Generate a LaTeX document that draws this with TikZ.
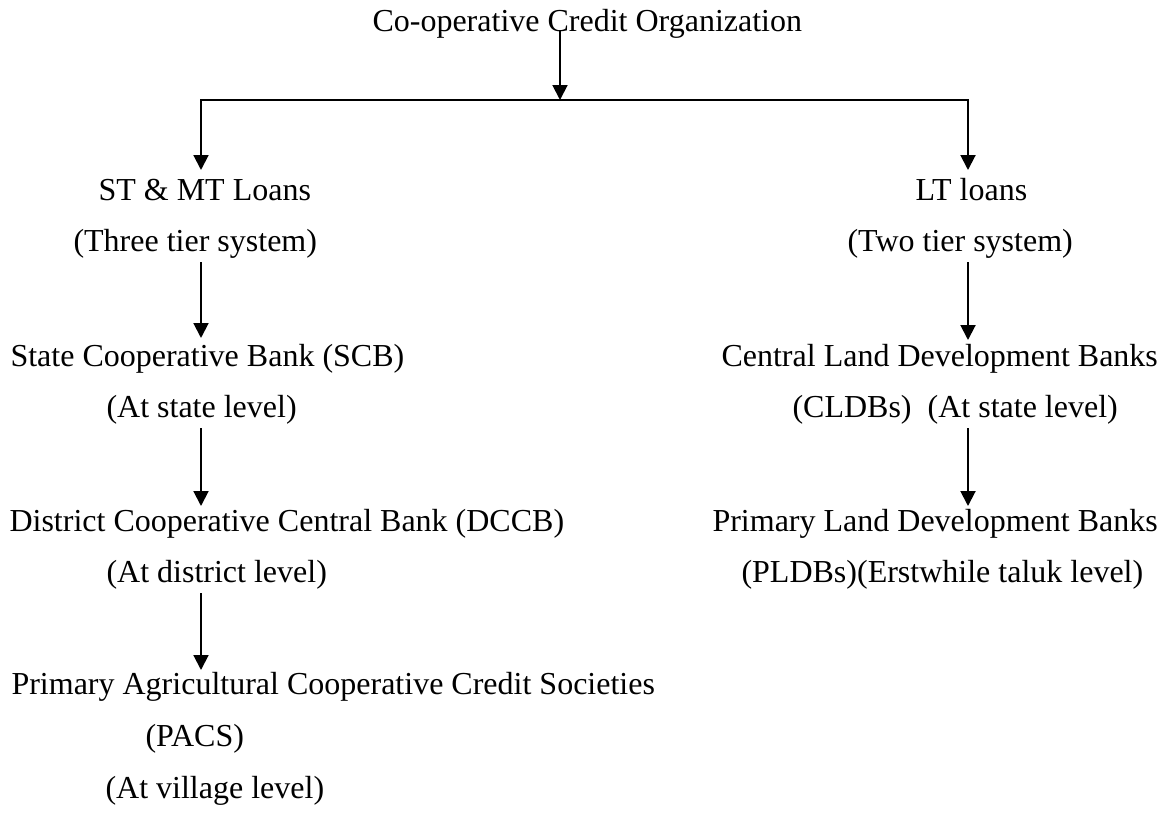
\documentclass[tikz,border=0pt]{standalone}
\usepackage{fontspec}
\setmainfont{Liberation Serif}
\usetikzlibrary{arrows.meta, positioning, calc}

\begin{document}
\begin{tikzpicture}[
    x=0.375pt, y=-0.375pt,
    txt/.style={anchor=base west, inner sep=0pt, font=\fontsize{12}{14}\selectfont},
    link/.style={line width=0.75pt, line cap=rect},
    arrow/.style={-{Triangle[length=5.6pt, width=5.6pt]}, line width=0.75pt}
]
\useasboundingbox (0,0) rectangle (1167,814);

% Top: organization and the split line
\node[txt] (org) at (372,32) {Co-operative Credit Organization};
\coordinate (split) at (560,100);
\coordinate (lsplit) at (201,100);
\coordinate (rsplit) at (968,100);

% Left branch: ST & MT loans (three tiers)
\node[txt] (stmt) at (98,200) {ST \& MT Loans};
\node[txt] (stmttier) at (73,251) {(Three tier system)};
\node[txt] (scb) at (10,366) {State Cooperative Bank (SCB)};
\node[txt] (scblevel) at (106,417) {(At state level)};
\node[txt] (dccb) at (9,531) {District Cooperative Central Bank (DCCB)};
\node[txt] (dccblevel) at (106,582) {(At district level)};
\node[txt] (pacs) at (11,694) {Primary Agricultural Cooperative Credit Societies};
\node[txt] (pacsabbr) at (145,746) {(PACS)};
\node[txt] (pacslevel) at (105,798) {(At village level)};

% Right branch: LT loans (two tiers)
\node[txt] (lt) at (915,200) {LT loans};
\node[txt] (lttier) at (847,251) {(Two tier system)};
\node[txt] (cldb) at (721,366) {Central Land Development Banks};
\node[txt] (cldblevel) at (792,417) {(CLDBs)\ \ (At state level)};
\node[txt] (pldb) at (712,531) {Primary Land Development Banks};
\node[txt] (pldblevel) at (741,582) {(PLDBs)(Erstwhile taluk level)};

% Arrows - top
\draw[arrow] ($(org.base -| split)+(0,-2)$) -- (split);
\draw[link] (lsplit) -- (rsplit);
\draw[arrow] (lsplit) -- ($(stmt.base -| lsplit)+(0,-30)$);
\draw[arrow] (rsplit) -- ($(lt.base -| rsplit)+(0,-30)$);

% Arrows - left branch
\draw[arrow] ($(stmttier.base -| lsplit)+(0,11)$) -- ($(scb.base -| lsplit)+(0,-28)$);
\draw[arrow] ($(scblevel.base -| lsplit)+(0,11)$) -- ($(dccb.base -| lsplit)+(0,-25)$);
\draw[arrow] ($(dccblevel.base -| lsplit)+(0,11)$) -- ($(pacs.base -| lsplit)+(0,-24)$);

% Arrows - right branch
\draw[arrow] ($(lttier.base -| rsplit)+(0,11)$) -- ($(cldb.base -| rsplit)+(0,-26)$);
\draw[arrow] ($(cldblevel.base -| rsplit)+(0,11)$) -- ($(pldb.base -| rsplit)+(0,-25)$);

\end{tikzpicture}
\end{document}
